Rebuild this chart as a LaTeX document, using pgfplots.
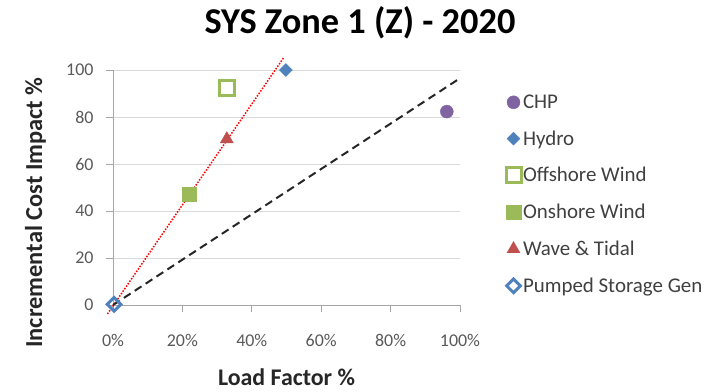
\documentclass[border=0pt]{standalone}
\usepackage{pgfplots}
\pgfplotsset{compat=1.18}
\usepackage{fontspec}
\setmainfont{Carlito}
\definecolor{cchp}{HTML}{8064A2}
\definecolor{chyd}{HTML}{4F81BD}
\definecolor{cgrn}{HTML}{9BBB59}
\definecolor{cred}{HTML}{C0504D}
\definecolor{ctick}{HTML}{595959}
\definecolor{cleg}{HTML}{404040}
\definecolor{caxis}{HTML}{A6A6A6}
\definecolor{cgrid}{HTML}{D9D9D9}
\begin{document}
\begin{tikzpicture}[x=1bp,y=1bp]
\path[use as bounding box] (0,0) rectangle (712,-391);
\node[font=\fontsize{36.5}{40}\selectfont\bfseries, text=black, anchor=base] at (360,-33) {SYS Zone 1 (Z) - 2020};
\begin{axis}[
  at={(113bp,-305bp)}, anchor=south west,
  scale only axis, width=347bp, height=235bp,
  xmin=0, xmax=100, ymin=0, ymax=100,
  clip=false,
  axis lines*=left,
  axis line style={caxis, line width=0.8bp},
  xtick={0,20,40,60,80,100},
  ytick={0,20,40,60,80,100},
  xticklabel={\pgfmathprintnumber{\tick}\%},
  /pgf/number format/assume math mode=true,
  tick align=outside,
  major tick length=7bp,
  tick style={caxis, line width=0.8bp},
  ymajorgrids,
  grid style={cgrid, line width=0.8bp},
  ticklabel style={font=\fontsize{18}{21}\selectfont, text=ctick},
  xticklabel style={yshift=-19bp},
  yticklabel style={xshift=-9bp},
  xlabel={Load Factor \%},
  ylabel={Incremental Cost Impact \%},
  every axis x label/.style={at={(axis description cs:0.5,0)}, anchor=base, yshift=-80bp, font=\fontsize{24}{28}\selectfont\bfseries, text=black!85},
  every axis y label/.style={at={(axis description cs:-0.2046,0.3936)}, anchor=base, rotate=90, font=\fontsize{24.5}{28}\selectfont\bfseries, text=black!85},
  legend style={at={(axis description cs:1.132,0.904)}, anchor=north west, draw=none, fill=none, inner sep=0pt, row sep=16.8bp, font=\fontsize{21}{24}\selectfont, text=cleg},
  legend cell align=left,
]
\addplot[forget plot, red, line width=1.5bp, dash pattern=on 1.5bp off 1.5bp] coordinates {(-1.6,-3.8) (49.3,105.5)};
\addplot[forget plot, black!85, line width=2bp, dash pattern=on 8bp off 5bp] coordinates {(0,0) (100,96.5)};
\addplot[only marks, mark=*, mark size=6.5bp, mark options={fill=cchp, draw=cchp}] coordinates {(96.2,82.3)};
\addlegendentry{CHP}
\addplot[only marks, mark=square*, mark size=4.6bp, mark options={rotate=45, fill=chyd, draw=chyd}] coordinates {(49.8,100)};
\addlegendentry{Hydro}
\addplot[only marks, mark=square, mark size=7.5bp, mark options={draw=cgrn, line width=3bp, fill=white}] coordinates {(32.8,92.5)};
\addlegendentry{Offshore Wind}
\addplot[only marks, mark=square*, mark size=7.3bp, mark options={fill=cgrn, draw=cgrn}] coordinates {(22.0,47.2)};
\addlegendentry{Onshore Wind}
\addplot[only marks, mark=triangle*, mark size=7.5bp, mark options={fill=cred, draw=cred}] coordinates {(32.8,70.6)};
\addlegendentry{Wave \& Tidal}
\addplot[only marks, mark=square, mark size=4.8bp, mark options={rotate=45, draw=chyd, line width=3bp, fill=white}] coordinates {(0.3,0.3)};
\addlegendentry{Pumped Storage Gen}
\end{axis}
\end{tikzpicture}
\end{document}
